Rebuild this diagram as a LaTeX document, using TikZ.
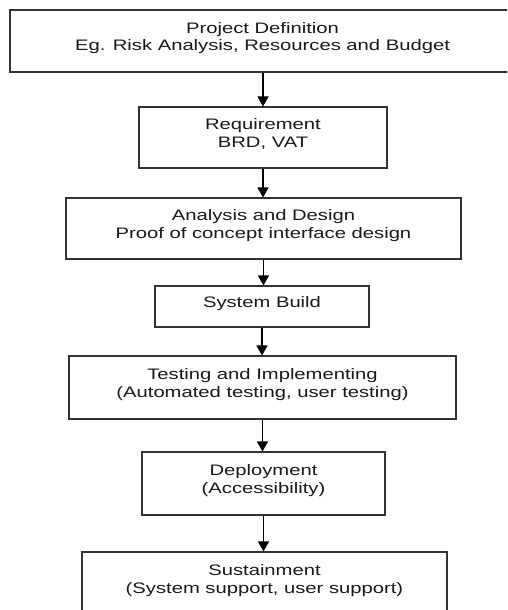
\documentclass[tikz,border=0pt]{standalone}
\usepackage{fontspec}
\setmainfont{Liberation Sans}
\usepackage{graphicx}
\usetikzlibrary{arrows.meta}
\newcommand{\boxtext}[1]{\raisebox{2.5pt}[\height][\depth]{\scalebox{1.33}[1]{\fontsize{15.2}{17.5}\selectfont\begin{tabular}{@{}c@{}}#1\end{tabular}}}}
\tikzset{
  stagebox/.style={draw=black!80, line width=1.1pt, fill=white, rectangle, inner sep=0pt, text=black!90},
  flowarrow/.style={draw=black, line width=1.3pt, -{Triangle[length=10pt,width=11pt]}}
}
\begin{document}
\begin{tikzpicture}[x=1pt,y=-1pt]
\useasboundingbox (0,0) rectangle (507,610);
\clip (0,0) rectangle (507,610);
\fill[white] (0,0) rectangle (507,610);
\node[stagebox, minimum width=505pt, minimum height=62pt] (b1) at (262.5,41) {\boxtext{Project Definition\\Eg. Risk Analysis, Resources and Budget}};
\node[stagebox, minimum width=248pt, minimum height=61pt] (b2) at (263,137.5) {\boxtext{Requirement\\BRD, VAT}};
\node[stagebox, minimum width=395pt, minimum height=61pt] (b3) at (263.5,228.5) {\boxtext{Analysis and Design\\Proof of concept interface design}};
\node[stagebox, minimum width=214pt, minimum height=41pt] (b4) at (262,306.5) {\boxtext{System Build}};
\node[stagebox, minimum width=387pt, minimum height=63pt] (b5) at (262.5,387.5) {\boxtext{Testing and Implementing\\(Automated testing, user testing)}};
\node[stagebox, minimum width=243pt, minimum height=63pt] (b6) at (263.5,483.5) {\boxtext{Deployment\\(Accessibility)}};
\node[stagebox, minimum width=365pt, minimum height=63pt] (b7) at (264.5,583.5) {\boxtext{Sustainment\\(System support, user support)}};
\draw[flowarrow] (b1.south -| b2.north) -- (b2.north);
\draw[flowarrow] (b2.south -| b2.north) -- (b3.north -| b2.north);
\draw[flowarrow] (b3.south -| b3.north) -- (b4.north -| b3.north);
\draw[flowarrow] (b4.south -| b4.north) -- (b5.north -| b4.north);
\draw[flowarrow] (b5.south -| b5.north) -- (b6.north -| b5.north);
\draw[flowarrow] (b6.south -| b6.north) -- (b7.north -| b6.north);
\end{tikzpicture}
\end{document}
